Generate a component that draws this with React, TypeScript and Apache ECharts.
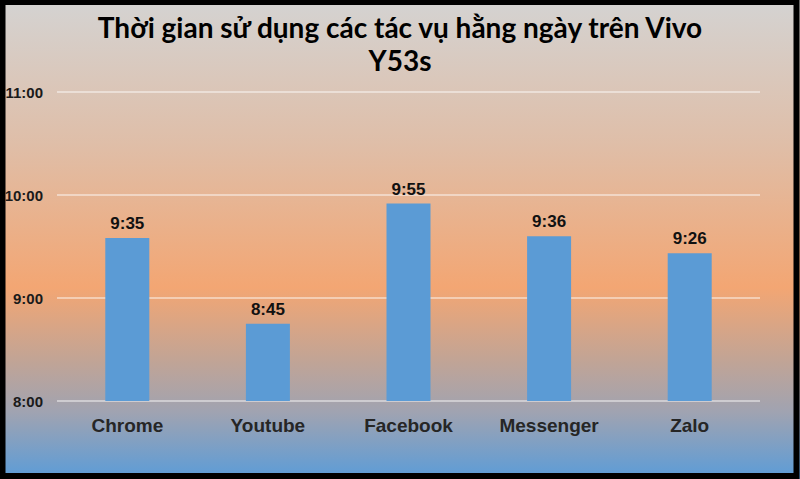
import React, { useEffect, useRef } from "react";
import * as echarts from "echarts";

const titleText = "Thời gian sử dụng các tác vụ hằng ngày trên Vivo\nY53s";
const categories = ["Chrome", "Youtube", "Facebook", "Messenger", "Zalo"];
const durations = ["9:35", "8:45", "9:55", "9:36", "9:26"];
const yMin = 8;
const yMax = 11;
const yInterval = 1;

const toHours = (s: string) => {
  const [h, m] = s.split(":").map(Number);
  return h + m / 60;
};
const fmtHours = (v: number) => {
  const total = Math.round(v * 60);
  const h = Math.floor(total / 60);
  const m = total % 60;
  return `${h}:${m < 10 ? "0" + m : m}`;
};

export default function App() {
  const ref = useRef<HTMLDivElement>(null);
  useEffect(() => {
    if (!ref.current) return;
    const chart = echarts.init(ref.current, undefined, { renderer: "svg" });
    chart.setOption({
      animation: false,
      graphic: [
        {
          type: "rect",
          z: -10,
          shape: { x: 0, y: 0, width: 800, height: 479 },
          style: {
            fill: new echarts.graphic.LinearGradient(0, 0, 0, 1, [
              { offset: 0, color: "#d4d3d2" },
              { offset: 0.3, color: "#dfbea8" },
              { offset: 0.6, color: "#f3a673" },
              { offset: 0.75, color: "#c2a495" },
              { offset: 0.86, color: "#a0a3b1" },
              { offset: 1, color: "#5b9cd8" },
            ]),
          },
          silent: true,
        },
        {
          type: "rect",
          z: 100,
          shape: { x: 2.5, y: 2, width: 794, height: 474 },
          style: { fill: "none", stroke: "#000", lineWidth: 6 },
          silent: true,
        },
      ],
      title: {
        text: titleText,
        left: "center",
        top: 5,
        textStyle: {
          fontFamily: "Lato",
          fontWeight: "bold",
          fontSize: 28,
          lineHeight: 33,
          color: "#000",
        },
      },
      grid: { left: 57, right: 40, top: 92, bottom: 78, containLabel: false },
      xAxis: {
        type: "category",
        data: categories,
        axisLine: { show: false },
        axisTick: { show: false },
        axisLabel: {
          margin: 15,
          fontFamily: "Liberation Sans, Arial",
          fontWeight: "bold",
          fontSize: 19,
          color: "#262626",
        },
      },
      yAxis: {
        type: "value",
        min: yMin,
        max: yMax,
        interval: yInterval,
        axisLine: { show: false },
        axisTick: { show: false },
        splitLine: { lineStyle: { color: "rgba(255,255,255,0.6)", width: 1.5 } },
        axisLabel: {
          margin: 14,
          fontFamily: "Liberation Sans, Arial",
          fontWeight: "bold",
          fontSize: 15,
          color: "#1a1a1a",
          formatter: (v: number) => fmtHours(v),
        },
      },
      series: [
        {
          type: "bar",
          data: durations.map(toHours),
          barWidth: 44,
          itemStyle: { color: "#5b9bd5" },
          label: {
            show: true,
            position: "top",
            distance: 6,
            fontFamily: "Liberation Sans, Arial",
            fontWeight: "bold",
            fontSize: 17,
            color: "#111",
            formatter: (p: any) => durations[p.dataIndex],
          },
        },
      ],
    });
    return () => chart.dispose();
  }, []);
  return (
    <div
      ref={ref}
      style={{ position: "absolute", left: 0, top: 0, width: 800, height: 479 }}
    />
  );
}
